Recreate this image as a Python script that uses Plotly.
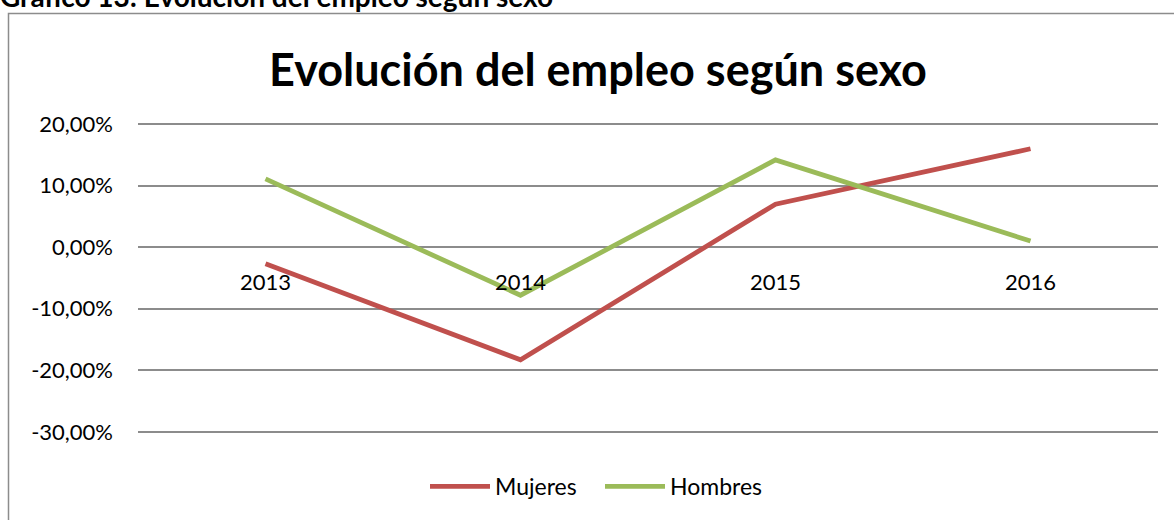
import plotly.graph_objects as go

years = ["2013", "2014", "2015", "2016"]
mujeres = [-0.027, -0.183, 0.070, 0.160]
hombres = [0.111, -0.078, 0.142, 0.010]
y_tickvals = [-0.3, -0.2, -0.1, 0.0, 0.1, 0.2]
y_ticktext = ["-30,00%", "-20,00%", "-10,00%", "0,00%", "10,00%", "20,00%"]

W, H = 1174, 520
L, R, T, B = 138, 1158, 124, 434
YMIN, YMAX = -0.3, 0.2
pad = 0.01
ppu = (B - T) / (YMAX - YMIN)
padpx = pad * ppu
T2, B2 = T - padpx, B + padpx

def px(x):
    return (x - L) / (R - L)

def py(y):
    return (B2 - y) / (B2 - T2)

FONT = "Lato"

fig = go.Figure()
fig.add_trace(go.Scatter(x=years, y=mujeres, name="Mujeres", mode="lines",
                         line=dict(color="#C0504D", width=4.8)))
fig.add_trace(go.Scatter(x=years, y=hombres, name="Hombres", mode="lines",
                         line=dict(color="#9BBB59", width=4.8)))

fig.update_layout(
    width=W, height=H,
    margin=dict(l=L, r=W - R, t=T2, b=H - B2),
    paper_bgcolor="white", plot_bgcolor="white",
    font=dict(family=FONT, size=22, color="black"),
    title=dict(text="<b>Evolución del empleo según sexo</b>", x=px(598), xref="paper",
               xanchor="center", y=1 - 70 / H, yanchor="middle",
               font=dict(family=FONT, size=45, color="black")),
    xaxis=dict(type="category", range=[-0.5, 3.5], anchor="free",
               position=(0 - (YMIN - pad)) / (YMAX - YMIN + 2 * pad),
               showgrid=False, showline=False, zeroline=False, ticks="",
               ticklabelstandoff=20, tickfont=dict(size=22)),
    yaxis=dict(range=[YMIN - pad, YMAX + pad], tickvals=y_tickvals, ticktext=y_ticktext,
               showgrid=True, gridcolor="#8C8C8C", gridwidth=1.5, zeroline=False,
               showline=False, ticks="", ticklabelstandoff=24, tickfont=dict(size=22)),
    legend=dict(orientation="h", x=px(600), xanchor="center", y=py(489), yanchor="middle",
                font=dict(size=23), itemwidth=60, entrywidth=100, entrywidthmode="pixels",
                traceorder="normal"),
    showlegend=True,
)

# outer frame
fig.add_shape(type="rect", xref="paper", yref="paper",
              x0=px(8.5), x1=px(1190), y0=py(12.5), y1=py(540),
              line=dict(color="#8C8C8C", width=1.5), fillcolor="rgba(0,0,0,0)", layer="below")

# cropped caption above the frame
fig.add_annotation(text="<b>Gráfico 13: Evolución del empleo según sexo</b>",
                   xref="paper", yref="paper", x=px(-2), y=py(14), xanchor="left",
                   yanchor="bottom", showarrow=False,
                   font=dict(family=FONT, size=28, color="black"))

fig.write_html("out.html", config={"displayModeBar": False},
               post_script="document.body.style.margin='0';")
